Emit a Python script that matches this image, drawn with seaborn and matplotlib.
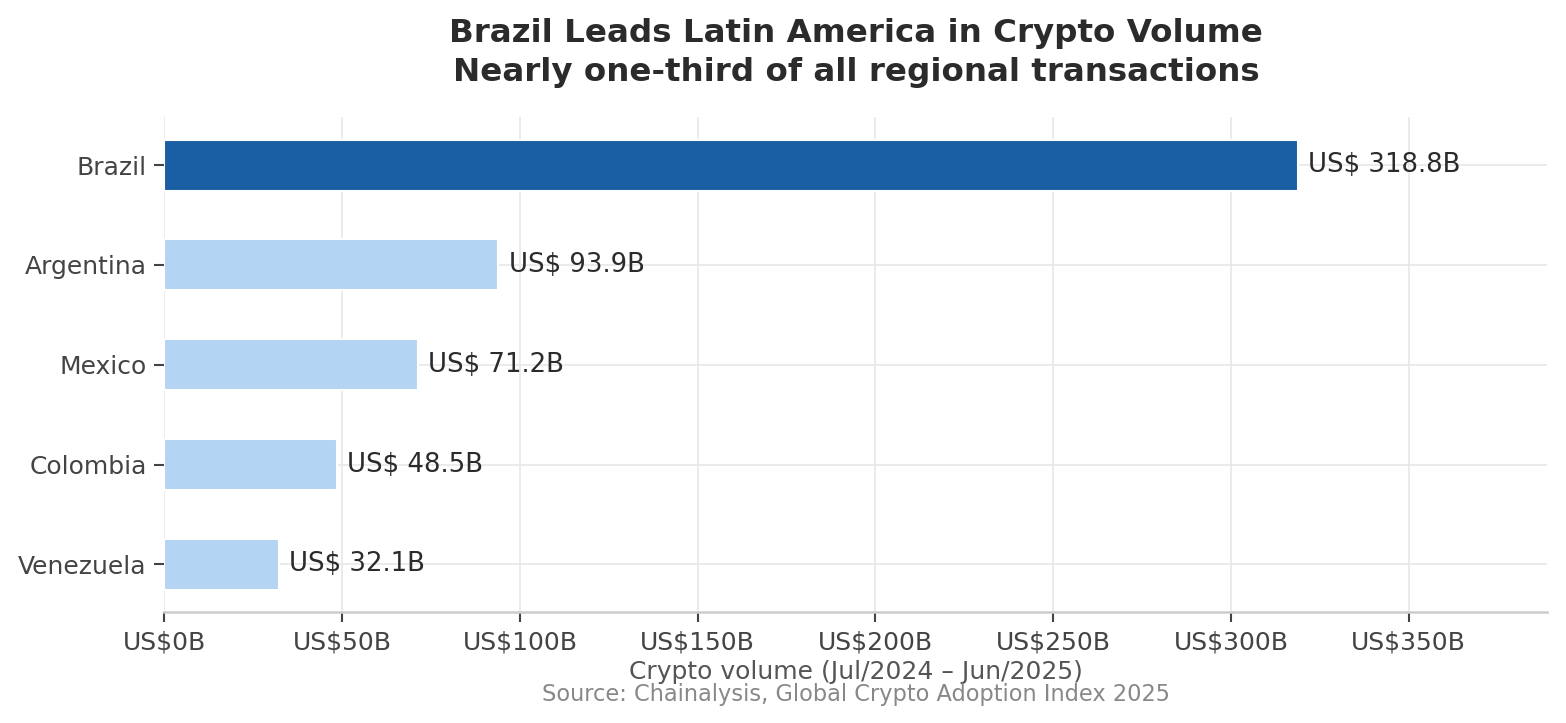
import matplotlib
matplotlib.use("Agg")
import matplotlib.pyplot as plt
import pandas as pd
import seaborn as sns
from matplotlib.ticker import FuncFormatter

# Crypto volume by country, Jul/2024 - Jun/2025 (US$ billions)
countries = ["Brazil", "Argentina", "Mexico", "Colombia", "Venezuela"]
volumes = [318.8, 93.9, 71.2, 48.5, 32.1]
bar_colors = ["#1a5ea4", "#b4d4f3", "#b4d4f3", "#b4d4f3", "#b4d4f3"]
tick_values = [0, 50, 100, 150, 200, 250, 300, 350]

df = pd.DataFrame({"Country": countries, "Volume": volumes})

sns.set_theme(style="whitegrid")
plt.rcParams["font.family"] = ["DejaVu Sans"]

fig, ax = plt.subplots(figsize=(10.44, 4.82), dpi=150)
sns.barplot(data=df, x="Volume", y="Country", hue="Country", palette=bar_colors,
            width=0.51, legend=False, ax=ax, saturation=1)

for container in ax.containers:
    ax.bar_label(container, labels=[f"US$ {v:.1f}B" for v in container.datavalues],
                 padding=5, fontsize=12.5, color="#2b2b2b")

ax.set_xlim(0, max(volumes) * 1.22)
ax.set_ylim(4.48, -0.48)
ax.set_xticks(tick_values)
ax.xaxis.set_major_formatter(FuncFormatter(lambda v, p: f"US${v:.0f}B"))
ax.tick_params(axis="both", labelsize=12, colors="#444444", length=5, width=1,
               left=True, bottom=True)
ax.grid(True, color="#e8e8e8", linewidth=0.8)

for side in ["top", "right", "left"]:
    ax.spines[side].set_visible(False)
ax.spines["bottom"].set_color("#cccccc")
ax.spines["bottom"].set_linewidth(1.2)

ax.set_ylabel("")
ax.set_xlabel("Crypto volume (Jul/2024 – Jun/2025)", fontsize=12, color="#555555", labelpad=3)
ax.set_title("Brazil Leads Latin America in Crypto Volume\nNearly one-third of all regional transactions",
             fontsize=15.6, fontweight="bold", color="#2b2b2b", pad=17.5, linespacing=1.3)

fig.text(0.5467, 0.040, "Source: Chainalysis, Global Crypto Adoption Index 2025",
         ha="center", va="center", fontsize=10.8, color="#888888")

fig.subplots_adjust(left=0.105, right=0.988, top=0.838, bottom=0.153)
fig.savefig("out.png", dpi=150)
